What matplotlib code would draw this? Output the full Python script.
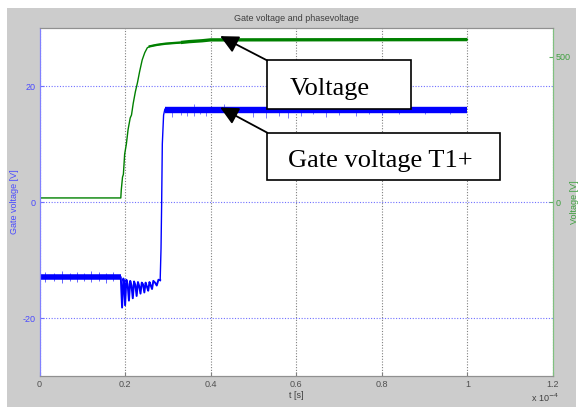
import matplotlib.pyplot as plt
from matplotlib.patches import Rectangle

# time axis in units of 1e-4 s
volt_t = [0.0, 0.19, 0.191, 0.194, 0.196, 0.199, 0.203, 0.207, 0.212, 0.215, 0.219,
          0.224, 0.229, 0.234, 0.240, 0.246, 0.252, 0.260, 0.275, 0.295, 0.32, 0.35,
          0.38, 0.40, 1.0]
volt_v = [14, 14, 40, 86, 95, 165, 200, 250, 290, 300, 340,
          380, 412, 450, 490, 515, 532, 538, 542, 546, 548, 553,
          556, 559, 560]
volt_mid_t = [0.255, 0.275, 0.295, 0.33]
volt_mid_v = [536, 542, 546, 550]
volt_plateau_t = [0.33, 0.35, 0.38, 0.40, 1.0]
volt_plateau_v = [550, 553, 556, 559, 560]

gate_pre_t = [0.0, 0.19]
gate_pre_v = [-12.9, -12.9]
gate_pre_spike_t = [0.012, 0.035, 0.052, 0.071, 0.088, 0.104, 0.121, 0.139, 0.155, 0.172]
gate_pre_spike_lo = [-13.8, -13.7, -13.9, -13.6, -13.8, -13.7, -13.8, -13.6, -13.9, -13.7]
gate_pre_spike_hi = [-12.1, -12.2, -11.9, -12.2, -12.0, -12.2, -11.9, -12.1, -12.2, -12.0]

gate_ring_t = [0.190, 0.193, 0.196, 0.198, 0.200, 0.203, 0.206, 0.209, 0.212, 0.215,
               0.218, 0.221, 0.224, 0.227, 0.230, 0.233, 0.236, 0.239, 0.242, 0.245,
               0.248, 0.251, 0.254, 0.257, 0.260, 0.263, 0.266, 0.270, 0.274, 0.278,
               0.282]
gate_ring_v = [-13.0, -18.2, -13.2, -14.0, -17.8, -13.4, -14.2, -17.0, -13.6, -14.4,
               -16.6, -13.7, -14.3, -16.2, -13.8, -14.5, -15.8, -13.9, -14.2, -15.6,
               -13.9, -14.6, -15.3, -13.8, -14.4, -15.0, -13.6, -13.9, -14.4, -13.4,
               -13.5]

gate_rise_t = [0.282, 0.284, 0.2855, 0.287, 0.290, 0.293]
gate_rise_v = [-13.5, -8.0, 0.0, 10.0, 15.0, 16.0]

gate_plateau_t = [0.293, 1.0]
gate_plateau_v = [15.9, 15.9]
gate_dip_t = [0.31, 0.33, 0.345, 0.36, 0.375, 0.39, 0.44, 0.46, 0.50, 0.53, 0.56,
              0.58, 0.61, 0.64, 0.67, 0.70, 0.74, 0.77, 0.80, 0.84, 0.90, 0.96]
gate_dip_v = [14.7, 15.0, 14.8, 14.9, 15.1, 14.8, 14.6, 15.0, 14.7, 14.5, 14.9,
              14.4, 14.8, 15.1, 14.7, 15.0, 14.9, 15.2, 15.0, 15.1, 15.2, 15.1]
gate_peak_t = [0.36, 0.43, 0.64, 0.71, 0.75]
gate_peak_v = [16.9, 16.9, 16.8, 17.0, 16.8]

xticks = [0, 0.2, 0.4, 0.6, 0.8, 1.0, 1.2]
xticklabels = ['0', '0.2', '0.4', '0.6', '0.8', '1', '1.2']
gate_ticks = [-20, 0, 20]
volt_ticks = [0, 500]

BLUE = '#0000ff'
GREEN = '#008000'
plt.rcParams['font.family'] = ['Liberation Sans', 'DejaVu Sans']
plt.rcParams['axes.unicode_minus'] = False

fig = plt.figure(figsize=(5.79, 4.07), dpi=100)
fig.patch.set_facecolor('white')
fig.patches.append(Rectangle((7 / 579, 0), (576 - 7) / 579, (407 - 8) / 407,
                             transform=fig.transFigure, facecolor='#cccccc',
                             edgecolor='none', zorder=-10))

ax = fig.add_axes([39.5 / 579, 31 / 407, (553 - 39.5) / 579, (376 - 28) / 407])
ax2 = ax.twinx()

# gate voltage (left axis)
ax.plot(gate_pre_t, gate_pre_v, color=BLUE, lw=4.0, solid_capstyle='butt')
ax.vlines(gate_pre_spike_t, gate_pre_spike_lo, gate_pre_spike_hi, color=BLUE, lw=0.6, alpha=0.7)
ax.plot(gate_ring_t, gate_ring_v, color=BLUE, lw=1.4)
ax.plot(gate_rise_t, gate_rise_v, color=BLUE, lw=1.0)
ax.plot(gate_plateau_t, gate_plateau_v, color=BLUE, lw=4.6, solid_capstyle='butt')
ax.vlines(gate_dip_t, gate_dip_v, 15.9, color=BLUE, lw=0.6, alpha=0.6)
ax.vlines(gate_peak_t, 15.9, gate_peak_v, color=BLUE, lw=0.6, alpha=0.6)

# phase voltage (right axis)
ax2.plot(volt_t, volt_v, color=GREEN, lw=1.0)
ax2.plot(volt_mid_t, volt_mid_v, color=GREEN, lw=1.7, solid_capstyle='butt')
ax2.plot(volt_plateau_t, volt_plateau_v, color=GREEN, lw=2.4, solid_capstyle='butt')

ax.set_xlim(0, 1.2)
ax.set_ylim(-30, 30)
ax2.set_ylim(-600, 600)
ax.set_xticks(xticks)
ax.set_xticklabels(xticklabels)
ax.set_yticks(gate_ticks)
ax2.set_yticks(volt_ticks)

ax.grid(axis='x', color='#808080', linestyle=(0, (1, 1.5)), lw=0.8)
ax.grid(axis='y', color='#7070ff', linestyle=(0, (1, 1.5)), lw=0.8)
ax.set_axisbelow(True)

for a in (ax, ax2):
    a.spines['top'].set_color('#909090')
    a.spines['bottom'].set_color('#909090')
    a.spines['left'].set_color('#8080ff')
    a.spines['right'].set_color('#80c080')
ax.tick_params(axis='x', direction='in', length=3, color='#808080',
               labelcolor='#505050', labelsize=6.5, pad=3)
ax.tick_params(axis='y', direction='in', length=3, color='#7070ff',
               labelcolor='#4a4aff', labelsize=6.5, pad=3)
ax2.tick_params(axis='y', direction='in', length=3, color='#60b060',
                labelcolor='#40a040', labelsize=6.5, pad=2)

ax.set_title('Gate voltage and phasevoltage', fontsize=6.5, color='#404040', pad=5)
ax.set_xlabel('t [s]', fontsize=6.5, color='#404040', labelpad=1)
ax.set_ylabel('Gate voltage [V]', fontsize=6.5, color='#4a4aff')
ax.yaxis.set_label_coords(-0.04, 0.5)
ax2.set_ylabel('Voltage [V]', fontsize=6.5, color='#40a040')
ax2.yaxis.set_label_coords(1.034, 0.5)
fig.text(531 / 579, 5 / 407, r'x 10$^{-4}$', fontsize=6.5, color='#404040')

# callout boxes
serif = ['Liberation Serif', 'DejaVu Serif']
boxes = [
    ('Voltage', (0.5322, 16.1), 0.3368, 8.3, (0.5836, 18.5), 17.95),
    ('Gate voltage T1+', (0.5322, 3.81), 0.545, 8.14, (0.5813, 6.06), 5.6),
]
for label, (bx, by), bw, bh, (tx, ty), clip_y in boxes:
    ax2.add_patch(Rectangle((bx, by), bw, bh, transform=ax.transData,
                            facecolor='white', edgecolor='black', lw=1.2,
                            zorder=5, clip_on=False))
    txt = ax2.text(tx, ty, label, transform=ax.transData, fontsize=19,
                   family=serif, va='baseline', ha='left', zorder=6)
    clip = Rectangle((bx, clip_y), bw, by + bh - clip_y, transform=ax.transData)
    txt.set_clip_path(clip)

arrow = dict(arrowstyle='-|>,head_length=0.55,head_width=0.27', mutation_scale=20,
             color='black', lw=1.3, shrinkA=0, shrinkB=0)
ax2.annotate('', xy=(0.4222, 572), xycoords='data',
             xytext=(0.5322, 24.4), textcoords=ax.transData,
             arrowprops=arrow, zorder=6)
ax2.annotate('', xy=(0.4222, 16.3), xycoords=ax.transData,
             xytext=(0.5322, 11.95), textcoords=ax.transData,
             arrowprops=arrow, zorder=6)

fig.savefig('out.png', dpi=100)
